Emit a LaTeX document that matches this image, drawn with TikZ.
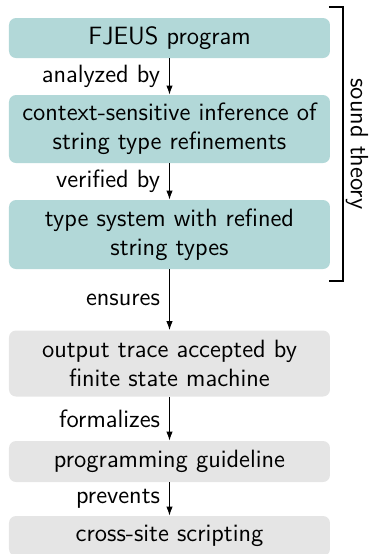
\documentclass[tikz,border=0pt]{standalone}
\usetikzlibrary{arrows.meta}
\definecolor{tealbox}{RGB}{178,216,216}
\definecolor{graybox}{RGB}{229,229,229}
\begin{document}
\begin{tikzpicture}[x=0.5pt,y=-0.5pt,
  font=\sffamily\fontsize{12.5}{14.5}\selectfont,
  box/.style={rectangle, rounded corners=3.5pt, minimum width=160.5pt, align=center, inner sep=0pt},
  tbox/.style={box, fill=tealbox},
  gbox/.style={box, fill=graybox},
  conn/.style={-{Latex[length=4.5pt,width=3.2pt]}, line width=0.5pt},
  lbl/.style={left=1.5pt, inner sep=3pt}]
\useasboundingbox (0,0) rectangle (370,554);
\node[tbox, minimum height=20pt] (a) at (169.5,38) {FJEUS program};
\node[tbox, minimum height=34pt] (b) at (169.5,129) {context-sensitive inference of\\string type refinements};
\node[tbox, minimum height=34.5pt] (c) at (169.5,234.5) {type system with refined\\string types};
\node[gbox, minimum height=33pt] (d) at (169.5,363.5) {output trace accepted by\\finite state machine};
\node[gbox, minimum height=20.5pt] (e) at (169.5,461.5) {programming guideline};
\node[gbox, minimum height=20pt] (f) at (169.5,536) {cross-site scripting};
\draw[conn] (a.south) -- node[lbl] {analyzed by} (b.north);
\draw[conn] (b.south) -- node[lbl] {verified by} (c.north);
\draw[conn] (c.south) -- node[lbl] {ensures} (d.north);
\draw[conn] (d.south) -- node[lbl] {formalizes} (e.north);
\draw[conn] (e.south) -- node[lbl] {prevents} (f.north);
\coordinate (bt) at (329,7);
\coordinate (bb) at (329,281);
\draw[line width=1pt] (bt) -- (343,7) -- (343,281) -- (bb);
\node[rotate=-90] (st) at (357,144) {sound theory};
\end{tikzpicture}
\end{document}
